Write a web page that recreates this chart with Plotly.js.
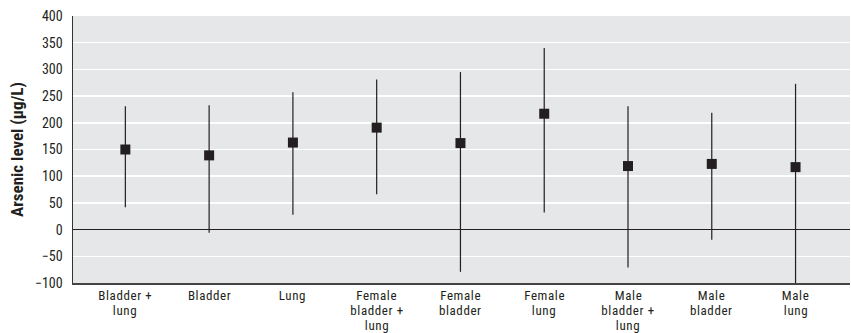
<!DOCTYPE html>
<html><head><meta charset="utf-8">
<script src="https://cdn.plot.ly/plotly-3.0.1.min.js"></script>
<style>html,body{margin:0;padding:0;background:#fff}#c{width:851px;height:333px}
#c .annotation-text{letter-spacing:0.6px}</style>
</head><body><div id="c"></div>
<script>
var categories = ["Bladder +<br>lung","Bladder","Lung","Female<br>bladder +<br>lung","Female<br>bladder","Female<br>lung","Male<br>bladder +<br>lung","Male<br>bladder","Male<br>lung"];
var meanValues = [150, 139, 163, 191, 162, 217, 119, 123, 117];
var upperValues = [231, 233, 257, 281, 295, 340, 231, 219, 273];
var lowerValues = [42, -6, 28, 66, -79, 32, -71, -19, -103];
var yTickValues = [-100,-50,0,50,100,150,200,250,300,350,400];
var refLines = [100, 200];

var idx = categories.map(function(_, i){return i;});
var plus = upperValues.map(function(u,i){return u-meanValues[i];});
var minus = lowerValues.map(function(l,i){return meanValues[i]-l;});
var font = "'Liberation Sans Narrow', 'Roboto Condensed', 'Arial Narrow', sans-serif";
var dark = "#231f20";

var trace = {
  x: idx, y: meanValues, type: 'scatter', mode: 'markers',
  marker: {symbol: 'square', size: 10, color: dark},
  error_y: {type: 'data', symmetric: false, array: plus, arrayminus: minus, width: 0, thickness: 1.2, color: dark},
  cliponaxis: false, hoverinfo: 'skip'
};

var shapes = refLines.map(function(v){
  return {type:'line', xref:'paper', x0:0, x1:1, yref:'y', y0:v, y1:v, layer:'between',
          line:{color:'#444', width:1, dash:'dot'}};
});

// category labels: one annotation per line for tight line spacing
var annotations = [];
categories.forEach(function(lab, i){
  lab.split('<br>').forEach(function(line, j){
    annotations.push({xref:'x', yref:'paper', x:i, y:0, yanchor:'middle', xanchor:'center',
      yshift: -(12.5 + 15*j), text: line, showarrow:false, borderpad:0,
      font:{family: font, size: 13, color: dark}});
  });
});

var layout = {
  width: 851, height: 333,
  margin: {l: 73, r: 1, t: 16, b: 50},
  paper_bgcolor: '#fff', plot_bgcolor: '#e6e7e8',
  showlegend: false,
  font: {family: font, size: 14, color: dark},
  xaxis: {range: [-0.625, 8.65], tickvals: idx, ticktext: idx.map(function(){return '';}), showgrid: false, zeroline: false,
          showline: true, linecolor: '#444', linewidth: 1.5, ticks: '', fixedrange: true},
  yaxis: {range: [-100, 400], tickvals: yTickValues, showgrid: true, gridcolor: '#ffffff', gridwidth: 1.5,
          zeroline: true, zerolinecolor: dark, zerolinewidth: 1.2,
          showline: true, linecolor: '#333', linewidth: 1.5, ticks: '', ticklabelstandoff: 6,
          tickfont: {family: font, size: 14, color: dark},
          title: {text: '<b>Arsenic level (μg/L)</b>', font: {family: font, size: 17, color: dark}, standoff: 7}, fixedrange: true},
  shapes: shapes,
  annotations: annotations
};
Plotly.newPlot('c', [trace], layout, {staticPlot: true, displayModeBar: false});
</script></body></html>
